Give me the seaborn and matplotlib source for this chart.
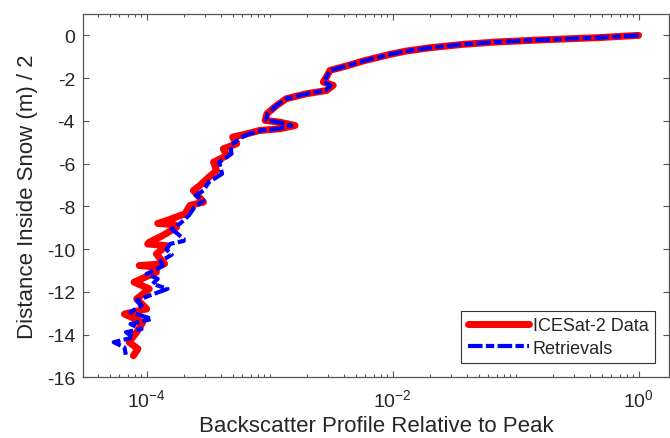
import numpy as np
import pandas as pd
import matplotlib
matplotlib.use("Agg")
import matplotlib.pyplot as plt
import seaborn as sns
from matplotlib.ticker import LogLocator, NullFormatter

# ICESat-2 data: depth (m)/2 and backscatter relative to peak
ice_depth = [0.0, -0.11, -0.20, -0.31, -0.42, -0.58, -0.73, -0.89, -1.20, -1.43,
             -1.64, -1.95, -2.18, -2.34, -2.58, -2.73, -2.96, -3.28, -3.67, -3.98,
             -4.06, -4.22, -4.37, -4.45, -4.61, -4.76, -5.07, -5.31, -5.62, -5.93,
             -6.32, -6.71, -7.03, -7.26, -7.80, -7.96, -8.35, -8.67, -8.80, -8.86,
             -8.98, -9.37, -9.68, -9.76, -9.84, -10.23, -10.69, -10.77, -10.84, -11.08,
             -11.55, -11.86, -12.33, -12.80, -13.04, -13.43, -13.89, -14.36, -14.67, -14.99]
ice_back = [1.0, 4.53e-1, 1.78e-1, 6.98e-2, 3.74e-2, 2.0e-2, 1.3e-2, 9.5e-3, 5.75e-3, 4.22e-3,
            3.09e-3, 2.9e-3, 2.73e-3, 3.29e-3, 2.9e-3, 2.0e-3, 1.37e-3, 1.14e-3, 9.5e-4, 9.2e-4,
            1.21e-3, 1.61e-3, 1.21e-3, 8.3e-4, 6.5e-4, 5.0e-4, 5.4e-4, 4.2e-4, 4.5e-4, 3.5e-4,
            3.7e-4, 3.1e-4, 2.7e-4, 2.4e-4, 2.9e-4, 2.25e-4, 2.05e-4, 1.45e-4, 1.23e-4, 1.7e-4,
            1.75e-4, 1.35e-4, 1.05e-4, 1.02e-4, 1.45e-4, 1.2e-4, 1.4e-4, 8.7e-5, 1.2e-4, 1.2e-4,
            7.9e-5, 1.05e-4, 8.3e-5, 1.0e-4, 6.6e-5, 9.3e-5, 8.3e-5, 7.2e-5, 8.5e-5, 7.8e-5]

# Retrievals
ret_depth = [0.0, -0.11, -0.20, -0.31, -0.42, -0.58, -0.73, -0.89, -1.20, -1.43,
             -1.64, -1.95, -2.18, -2.34, -2.58, -2.73, -2.96, -3.28, -3.67, -3.98,
             -4.06, -4.22, -4.37, -4.45, -4.61, -4.76, -5.15, -5.54, -5.93, -6.48,
             -6.87, -7.26, -7.49, -7.73, -8.04, -8.43, -8.82, -9.06, -9.52, -9.62,
             -9.76, -10.02, -10.26, -10.57, -10.80, -11.16, -11.39, -11.63, -11.86, -12.18,
             -12.41, -12.64, -12.95, -13.27, -13.51, -13.74, -13.89, -14.13, -14.36, -14.60,
             -14.99]
ret_back = [1.0, 4.53e-1, 1.78e-1, 6.98e-2, 3.74e-2, 2.0e-2, 1.3e-2, 9.5e-3, 5.75e-3, 4.22e-3,
            3.09e-3, 2.9e-3, 2.75e-3, 3.12e-3, 2.85e-3, 2.0e-3, 1.37e-3, 1.14e-3, 9.6e-4, 9.4e-4,
            1.18e-3, 1.5e-3, 1.18e-3, 8.5e-4, 6.8e-4, 6.0e-4, 4.8e-4, 4.9e-4, 3.9e-4, 4.1e-4,
            3.2e-4, 2.9e-4, 2.5e-4, 2.9e-4, 2.45e-4, 2.2e-4, 1.86e-4, 1.6e-4, 2.0e-4, 2.0e-4,
            1.55e-4, 1.45e-4, 1.6e-4, 1.3e-4, 1.35e-4, 1.0e-4, 1.23e-4, 1.12e-4, 1.48e-4, 1.05e-4,
            8.3e-5, 9.1e-5, 7.4e-5, 1.1e-4, 7.4e-5, 9.1e-5, 6.8e-5, 7.8e-5, 5.4e-5, 6.6e-5,
            6.8e-5]

series_names = ["ICESat-2 Data", "Retrievals"]

sns.set_theme(style="ticks")
plt.rcParams['font.family'] = ['Liberation Sans', 'DejaVu Sans']
plt.rcParams['axes.unicode_minus'] = False
plt.rcParams['mathtext.fontset'] = 'custom'
plt.rcParams['mathtext.rm'] = 'Liberation Sans'
plt.rcParams['mathtext.it'] = 'Liberation Sans'

fig = plt.figure(figsize=(6.70, 4.39), dpi=100)
ax = fig.add_axes([0.1234, 0.1383, 0.8756, 0.8275])

df_ice = pd.DataFrame({"x": ice_back, "y": ice_depth})
df_ret = pd.DataFrame({"x": ret_back, "y": ret_depth})

sns.lineplot(data=df_ice, x="x", y="y", sort=False, estimator=None, ax=ax,
             color="#ff0000", lw=5, label=series_names[0], solid_capstyle="round",
             solid_joinstyle="round")
sns.lineplot(data=df_ret, x="x", y="y", sort=False, estimator=None, ax=ax,
             color="#0000ff", lw=3, label=series_names[1])
ax.lines[1].set_dashes([3.5, 0.8, 2.0, 0.8])

ax.set_xscale("log")
ax.set_xlim(10 ** -4.52, 10 ** 0.25)
ax.set_ylim(-16, 1)
ax.set_yticks(np.arange(-16, 1, 2))
ax.xaxis.set_major_locator(LogLocator(base=100.0))
ax.xaxis.set_minor_locator(LogLocator(base=10.0, subs=np.arange(1, 10), numticks=30))
ax.xaxis.set_minor_formatter(NullFormatter())

grey = "#262626"
for sp in ax.spines.values():
    sp.set_visible(True)
    sp.set_color("#555555")
    sp.set_linewidth(0.9)
ax.tick_params(which="both", direction="in", top=True, right=True, colors="#555555",
               labelcolor=grey, labelsize=14, width=0.8)
ax.tick_params(which="major", length=4.5)
ax.tick_params(which="minor", length=2.3)
ax.tick_params(axis="y", pad=5.5)
ax.tick_params(axis="x", pad=7.5)

ax.set_xlabel("Backscatter Profile Relative to Peak", fontsize=16, color=grey, labelpad=4)
ax.set_ylabel("Distance Inside Snow (m) / 2", fontsize=16, color=grey, labelpad=6)

leg = ax.legend(loc="lower right", fontsize=13, frameon=True, fancybox=False,
                edgecolor="#333333", framealpha=1, handlelength=3.4, handletextpad=0.2,
                borderpad=0.35, labelspacing=0.3, borderaxespad=0.8)
leg.get_frame().set_linewidth(0.8)
for t in leg.get_texts():
    t.set_color(grey)

fig.savefig("out.png", dpi=100)
